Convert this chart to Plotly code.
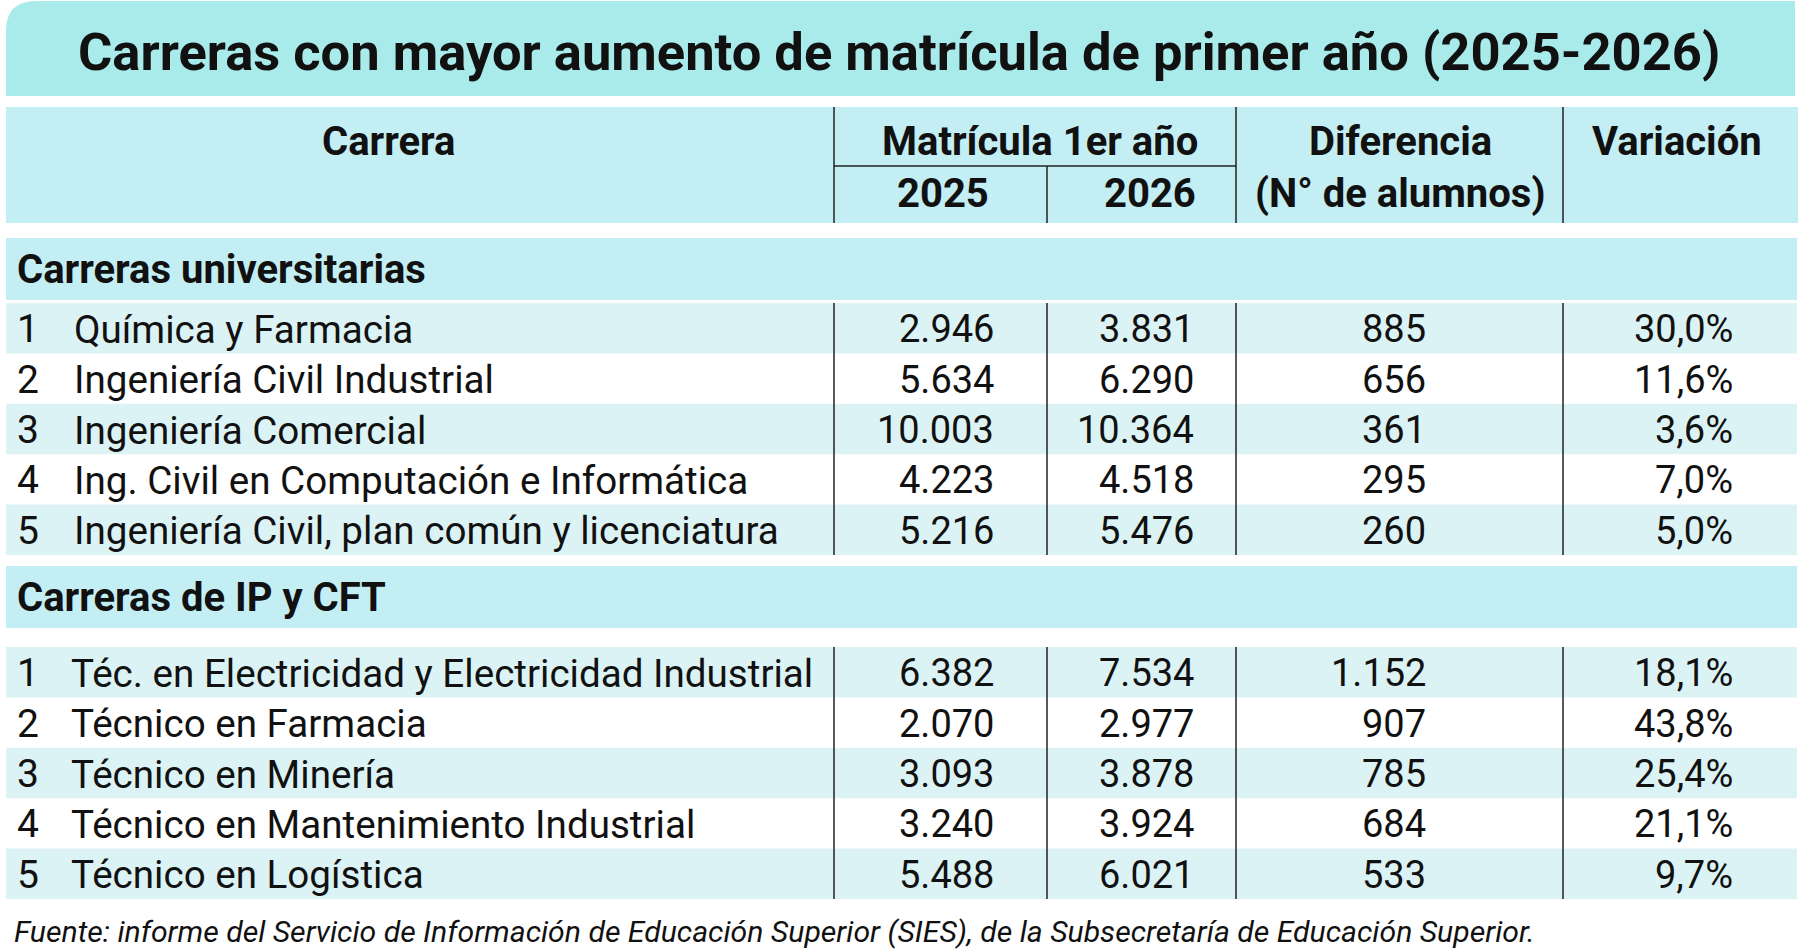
import plotly.graph_objects as go

# data
title = "Carreras con mayor aumento de matrícula de primer año (2025-2026)"
source = ("Fuente: informe del Servicio de Información de Educación Superior (SIES), "
          "de la Subsecretaría de Educación Superior.")

sections = ["Carreras universitarias", "Carreras de IP y CFT"]

univ_labels = ["Química y Farmacia", "Ingeniería Civil Industrial", "Ingeniería Comercial",
               "Ing. Civil en Computación e Informática",
               "Ingeniería Civil, plan común y licenciatura"]
univ_2025 = [2946, 5634, 10003, 4223, 5216]
univ_2026 = [3831, 6290, 10364, 4518, 5476]
univ_dif = [885, 656, 361, 295, 260]
univ_var = [30.0, 11.6, 3.6, 7.0, 5.0]

ip_labels = ["Téc. en Electricidad y Electricidad Industrial", "Técnico en Farmacia",
             "Técnico en Minería", "Técnico en Mantenimiento Industrial", "Técnico en Logística"]
ip_2025 = [6382, 2070, 3093, 3240, 5488]
ip_2026 = [7534, 2977, 3878, 3924, 6021]
ip_dif = [1152, 907, 785, 684, 533]
ip_var = [18.1, 43.8, 25.4, 21.1, 9.7]

W, H = 1799, 951
FONT = "Roboto"
LEFT, RIGHT = 6, 1797
COLS = [834, 1047, 1236, 1563]
ROW_H = 50.4

TITLE_BG = "#a9ebeb"
HEAD_BG = "#c3eef3"
STRIPE = "#dcf3f5"
LINE = "#222222"


def fmt_int(v):
    return f"{v:,}".replace(",", ".")


def fmt_pct(v):
    return f"{v:.1f}".replace(".", ",") + "%"


fig = go.Figure()
shapes = []
annots = []


def text(x, y, s, size=38, anchor="left", bold=False, italic=False):
    annots.append(dict(x=x, y=y, text=s, showarrow=False, xref="x", yref="y",
                       xanchor=anchor, yanchor="middle",
                       font=dict(family=FONT, size=size, color="#111111",
                                 weight="bold" if bold else "normal",
                                 style="italic" if italic else "normal")))


def rect(x0, y0, x1, y1, color):
    shapes.append(dict(type="rect", xref="x", yref="y", x0=x0, y0=y0, x1=x1, y1=y1,
                       fillcolor=color, line=dict(width=0), layer="below"))


def vline(x, y0, y1):
    shapes.append(dict(type="line", xref="x", yref="y", x0=x, x1=x, y0=y0, y1=y1,
                       line=dict(color=LINE, width=1.5)))


# title band with rounded top-left corner
r = 30
shapes.append(dict(type="path", xref="x", yref="y", layer="below",
                   path=f"M {LEFT},96 L {LEFT},{1 + r} Q {LEFT},1 {LEFT + r},1 L 1795,1 L 1795,96 Z",
                   fillcolor=TITLE_BG, line=dict(width=0)))
text(899, 52, title, size=52.5, anchor="center", bold=True)

# column header
HB = 40
rect(LEFT, 107, 1798, 223, HEAD_BG)
text(389, 141, "Carrera", size=HB, anchor="center", bold=True)
text(1040, 141, "Matrícula 1er año", size=HB, anchor="center", bold=True)
text(991, 193, "2025", size=HB, anchor="right", bold=True)
text(1198, 193, "2026", size=HB, anchor="right", bold=True)
text(1400, 141, "Diferencia", size=HB, anchor="center", bold=True)
text(1400, 193, "(N° de alumnos)", size=HB, anchor="center", bold=True)
text(1677, 141, "Variación", size=HB, anchor="center", bold=True)
for x in [COLS[0], COLS[2], COLS[3]]:
    vline(x, 107, 223)
vline(COLS[1], 166, 223)
shapes.append(dict(type="line", xref="x", yref="y", x0=COLS[0], x1=COLS[2], y0=166, y1=166,
                   line=dict(color=LINE, width=1.5)))

blocks = [
    (sections[0], 238, 303, univ_labels, univ_2025, univ_2026, univ_dif, univ_var, 72),
    (sections[1], 566, 647, ip_labels, ip_2025, ip_2026, ip_dif, ip_var, 69),
]

for name, band_top, rows_top, labels, v25, v26, dif, var, lab_x in blocks:
    rect(LEFT, band_top, RIGHT, band_top + 62, HEAD_BG)
    text(15, band_top + 31, name, size=HB, bold=True)
    for i, lab in enumerate(labels):
        y0 = rows_top + i * ROW_H
        yc = y0 + ROW_H / 2 + 1
        if i % 2 == 0:
            rect(LEFT, y0, RIGHT, y0 + ROW_H, STRIPE)
        text(15, yc, str(i + 1), size=39)
        text(lab_x, yc, lab, size=38.6)
        text(996, yc, fmt_int(v25[i]), anchor="right")
        text(1196, yc, fmt_int(v26[i]), anchor="right")
        text(1428, yc, fmt_int(dif[i]), anchor="right")
        text(1735, yc, fmt_pct(var[i]), anchor="right")
    for x in COLS:
        vline(x, rows_top, rows_top + len(labels) * ROW_H)

text(12, 931, source, size=30.2, italic=True)

fig.update_layout(
    width=W, height=H,
    margin=dict(l=0, r=0, t=0, b=0),
    paper_bgcolor="white", plot_bgcolor="white",
    xaxis=dict(range=[0, W], visible=False, fixedrange=True),
    yaxis=dict(range=[H, 0], visible=False, fixedrange=True),
    shapes=shapes, annotations=annots, showlegend=False,
)

# the page body has a default 8px margin; drop it so the figure sits at the top-left corner
fig.write_html("out.html", config={"displayModeBar": False},
               post_script="document.body.style.margin='0px';document.body.style.overflow='hidden';")
